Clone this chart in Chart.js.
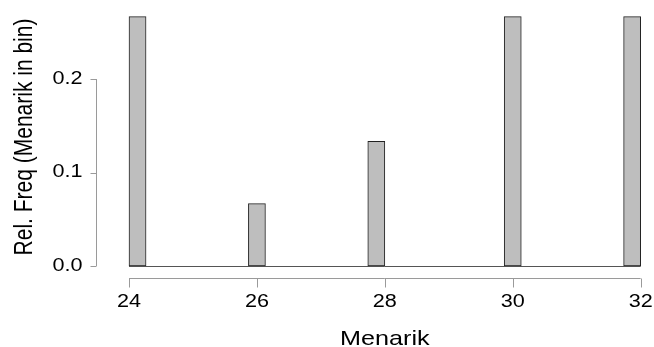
<!DOCTYPE html>
<html>
<head>
<meta charset="utf-8">
<script src="https://cdn.jsdelivr.net/npm/chart.js@4/dist/chart.umd.min.js"></script>
<style>
  html, body { margin: 0; padding: 0; background: #fff; }
</style>
</head>
<body>
<canvas id="hist-chart" width="654" height="347"></canvas>
<script>
// histogram bins (30 equal bins from 24 to 32)
const binLo = 24;
const binHi = 32;
const counts = [4, 0, 0, 0, 0, 0, 0, 1, 0, 0, 0, 0, 0, 0, 2, 0, 0, 0, 0, 0, 0, 0, 4, 0, 0, 0, 0, 0, 0, 4];
const total = 15;
const xTicks = [24, 26, 28, 30, 32];
const yTicks = [0.0, 0.1, 0.2];
const yTickLabels = ['0.0', '0.1', '0.2'];
const xTitle = 'Menarik';
const yTitle = 'Rel. Freq (Menarik in bin)';

const binWidth = (binHi - binLo) / counts.length;
const bars = counts.map((c, i) => ({ x: binLo + (i + 0.5) * binWidth, y: c / total }));

const STRETCH = 1.2;
const FONT = '"Liberation Sans", Arial, sans-serif';
const axisColor = '#9a9a9a';

function stretchedText(ctx, text, x, y, size, align, baseline, rot) {
  ctx.save();
  ctx.translate(x, y);
  ctx.scale(STRETCH, 1);
  if (rot) ctx.rotate(rot);
  ctx.font = size + 'px ' + FONT;
  ctx.textAlign = align;
  ctx.textBaseline = baseline;
  ctx.fillStyle = '#000';
  ctx.fillText(text, 0, 0);
  ctx.restore();
}

// R-style axes drawn from the chart's own scales
const rAxes = {
  id: 'rAxes',
  beforeDatasetsDraw(chart) {
    const { ctx, scales: { x, y } } = chart;
    const y0 = y.getPixelForValue(0);
    ctx.save();
    ctx.strokeStyle = '#555';
    ctx.lineWidth = 1;
    ctx.beginPath();
    ctx.moveTo(x.getPixelForValue(binLo), Math.round(y0) + 0.5);
    ctx.lineTo(x.getPixelForValue(binHi), Math.round(y0) + 0.5);
    ctx.stroke();
    ctx.restore();
  },
  afterDraw(chart) {
    const { ctx, chartArea, scales: { x, y } } = chart;
    ctx.save();
    ctx.strokeStyle = axisColor;
    ctx.lineWidth = 1;

    // y axis
    const ax = chartArea.left + 0.5;
    ctx.beginPath();
    ctx.moveTo(ax, y.getPixelForValue(yTicks[0]));
    ctx.lineTo(ax, y.getPixelForValue(yTicks[yTicks.length - 1]));
    yTicks.forEach(v => {
      const py = Math.round(y.getPixelForValue(v)) + 0.5;
      ctx.moveTo(ax, py);
      ctx.lineTo(ax - 6, py);
    });
    ctx.stroke();
    yTicks.forEach((v, i) => {
      stretchedText(ctx, yTickLabels[i], ax - 14, y.getPixelForValue(v), 18, 'right', 'middle');
    });

    // x axis
    const ay = chartArea.bottom + 2.5;
    ctx.beginPath();
    ctx.moveTo(x.getPixelForValue(xTicks[0]), ay);
    ctx.lineTo(x.getPixelForValue(xTicks[xTicks.length - 1]), ay);
    xTicks.forEach(v => {
      const px = Math.round(x.getPixelForValue(v)) + 0.5;
      ctx.moveTo(px, ay);
      ctx.lineTo(px, ay + 9);
    });
    ctx.stroke();
    xTicks.forEach(v => {
      stretchedText(ctx, String(v), x.getPixelForValue(v), ay + 24, 18, 'center', 'middle');
    });

    // titles
    const xMid = (x.getPixelForValue(xTicks[0]) + x.getPixelForValue(xTicks[xTicks.length - 1])) / 2;
    stretchedText(ctx, xTitle, xMid, 345, 21, 'center', 'alphabetic');
    stretchedText(ctx, yTitle, 32, 137, 21, 'center', 'alphabetic', -Math.PI / 2);
    ctx.restore();
  }
};

new Chart(document.getElementById('hist-chart'), {
  type: 'bar',
  data: {
    datasets: [{
      label: 'Rel. Freq',
      data: bars,
      backgroundColor: '#bebebe',
      borderColor: '#222',
      borderWidth: 1,
      borderSkipped: false,
      barPercentage: 1,
      categoryPercentage: 1
    }]
  },
  options: {
    responsive: false,
    animation: false,
    devicePixelRatio: 1,
    layout: { padding: { left: 96, right: 4, top: 6, bottom: 71 } },
    plugins: {
      legend: { display: false },
      tooltip: { enabled: false }
    },
    scales: {
      x: { type: 'linear', min: 23.484, max: 32.146, offset: false, display: false },
      y: { min: -0.0107, max: 0.2781, display: false }
    }
  },
  plugins: [rAxes]
});
</script>
</body>
</html>
